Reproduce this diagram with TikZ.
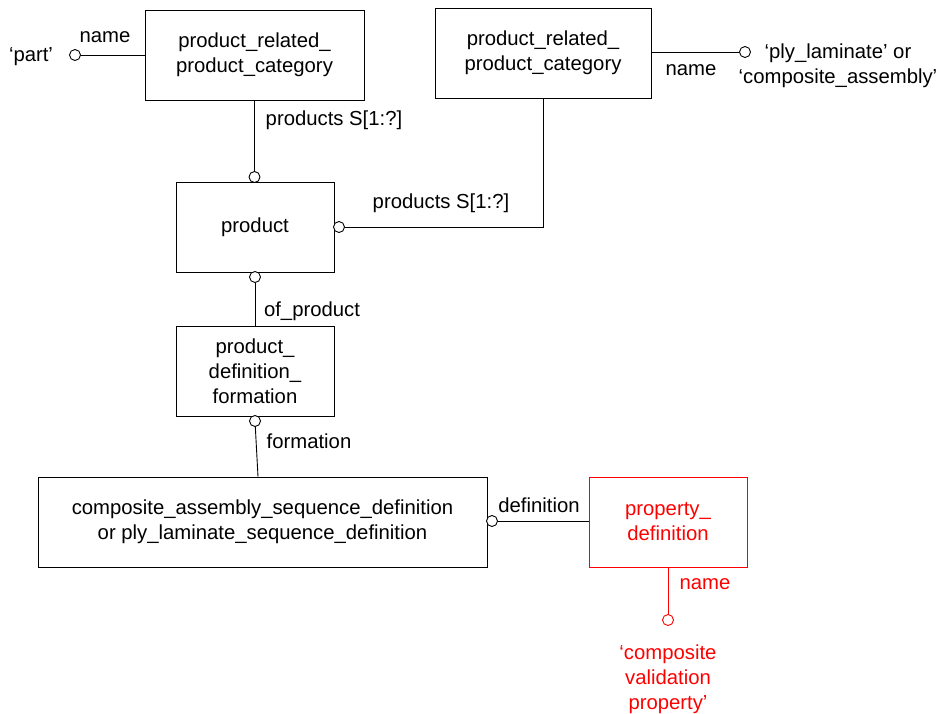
\documentclass[tikz,border=0pt]{standalone}
\usepackage{fontspec}
\setmainfont{Liberation Sans}
\begin{document}
\begin{tikzpicture}[x=1pt,y=-1pt,
  font=\fontsize{20.3}{25}\selectfont,
  entity/.style={draw,line width=0.9pt,rectangle,minimum height=90pt,align=center,inner sep=0pt},
  ring/.style={draw,line width=0.9pt,circle,fill=white,minimum size=11pt,inner sep=0pt},
  lbl/.style={inner sep=0pt,align=center},
  link/.style={line width=0.9pt},
  hl/.style={draw=red,text=red}
]
\useasboundingbox (0,0) rectangle (938,713);

% entities
\node[entity,minimum width=219pt] (prpcA) at (254.5,55) {product\_related\_\\product\_category};
\node[entity,minimum width=216pt] (prpcB) at (543,53) {product\_related\_\\product\_category};
\node[entity,minimum width=158pt] (prod) at (255,227) {product};
\node[entity,minimum width=158pt] (pdf) at (255,371) {product\_\\definition\_\\formation};
\node[entity,minimum width=449pt] (seq) at (262.5,522) {composite\_assembly\_sequence\_definition\\or ply\_laminate\_sequence\_definition};
\node[entity,hl,minimum width=158pt] (propdef) at (668,522) {property\_\\definition};

% relationship end rings
\node[ring] (rPart) at (75,55) {};
\node[ring] (rProdTop) at (254.5,177) {};
\node[ring] (rProdRight) at (339,227) {};
\node[ring] (rPly) at (745,52) {};
\node[ring] (rProdBot) at (255,277) {};
\node[ring] (rPdfBot) at (255,421) {};
\node[ring] (rSeq) at (492,521) {};
\node[ring,hl] (rProp) at (668,620) {};

% connectors
\draw[link] (rPart) -- (prpcA.west);
\draw[link] (prpcA.south) -- (rProdTop);
\draw[link] (prpcB.south) |- (rProdRight);
\draw[link] (prpcB.east |- rPly) -- (rPly);
\draw[link] (rProdBot) -- (pdf.north);
\draw[link] (rPdfBot) -- ([xshift=-4.5pt]seq.north);
\draw[link] (rSeq) -- (propdef.west |- rSeq);
\draw[link,red] (propdef.south) -- (rProp);

% attribute labels and values
\node[lbl] (tPart) at (31,57) {‘part’};
\node[lbl] (tNameA) at (105,37) {name};
\node[lbl] (tProdsA) at (334,120) {products S[1:?]};
\node[lbl] (tProdsB) at (441,203) {products S[1:?]};
\node[lbl] (tNameB) at (691,70) {name};
\node[lbl] (tPly) at (838,66) {‘ply\_laminate’ or\\‘composite\_assembly’};
\node[lbl] (tOfProd) at (312,311) {of\_product};
\node[lbl] (tForm) at (309,441) {formation};
\node[lbl] (tDef) at (539,505) {definition};
\node[lbl,text=red] (tNameC) at (705,584) {name};
\node[lbl,text=red] (tCvp) at (668,679) {‘composite\\validation\\property’};
\end{tikzpicture}
\end{document}
